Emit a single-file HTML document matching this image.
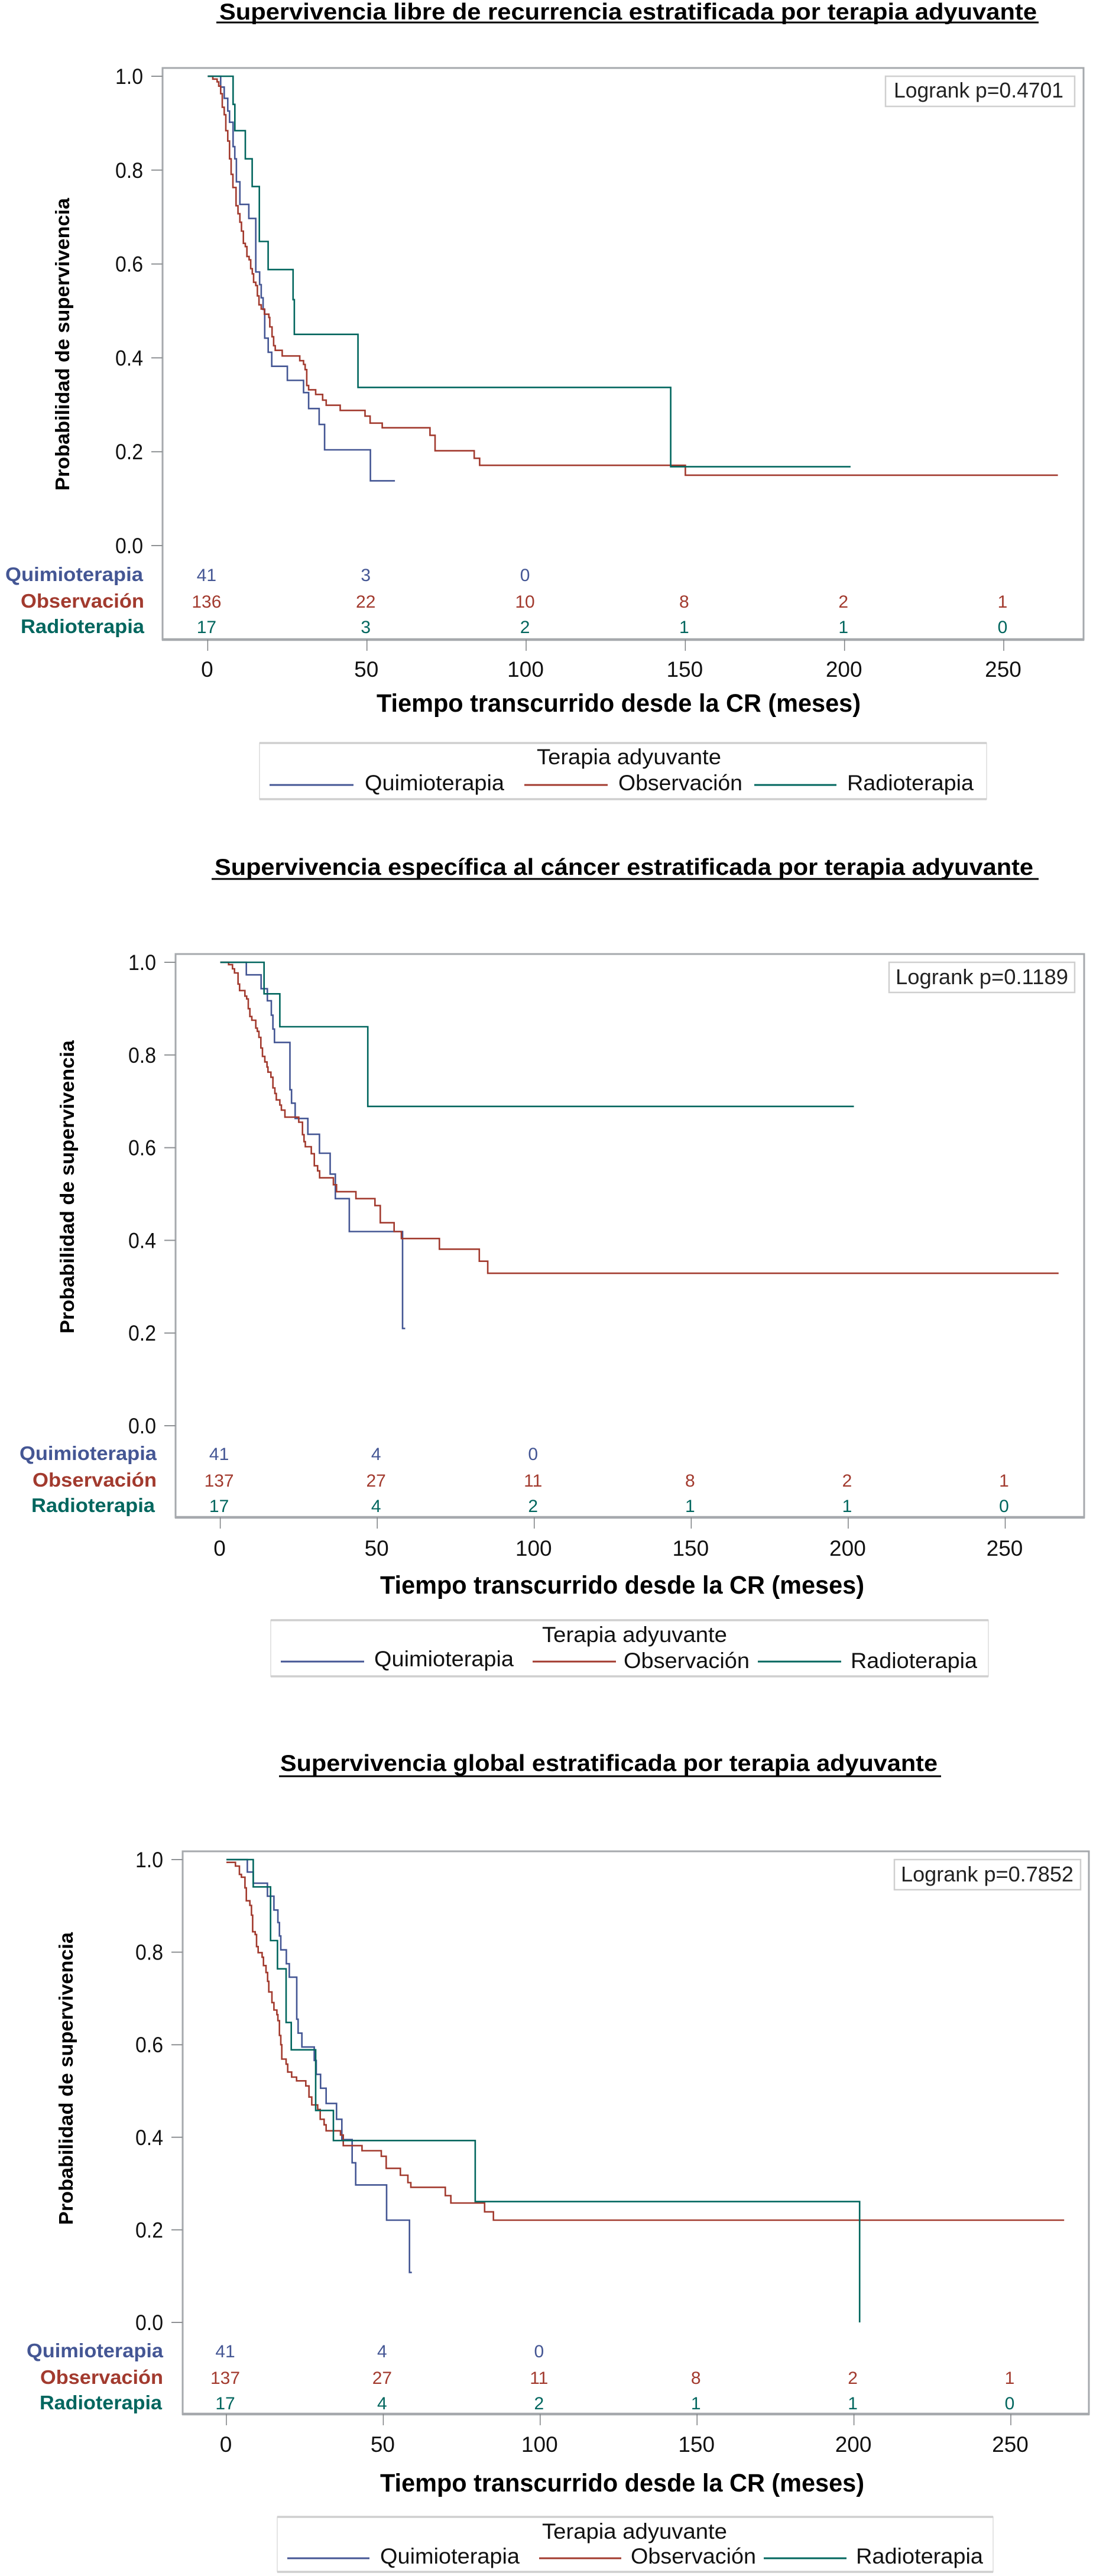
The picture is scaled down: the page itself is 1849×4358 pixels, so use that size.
<!DOCTYPE html>
<html lang="es">
<head>
<meta charset="utf-8">
<title>Curvas de supervivencia por terapia adyuvante</title>
<style>
  html, body { margin: 0; padding: 0; background: #fff; }
  svg { display: block; }
  text { font-family: "Liberation Sans", Arial, sans-serif; fill: #111; }
  .title { font-size: 39px; font-weight: bold; fill: #000; }
  .xtitle { font-size: 43px; font-weight: bold; fill: #000; }
  .ytitle { font-size: 33px; font-weight: bold; fill: #000; }
  .leg { font-size: 37px; fill: #111; }
  .lr { font-size: 36px; fill: #222; }
  .risk-label { font-size: 33px; font-weight: bold; }
</style>
</head>
<body>
<svg id="root" xmlns="http://www.w3.org/2000/svg" width="1849" height="4358" viewBox="0 0 1849 4358">
  <rect width="1849" height="4358" fill="#fff"/>

  <!-- Chart 1 -->
  <g id="chart1">
    <text class="title" x="371" y="33" textLength="1383" lengthAdjust="spacingAndGlyphs">Supervivencia libre de recurrencia estratificada por terapia adyuvante</text>
    <line x1="366" x2="1757" y1="38" y2="38" stroke="#000" stroke-width="3"/>
    <text class="ytitle" transform="translate(117,830) rotate(-90)" textLength="495" lengthAdjust="spacingAndGlyphs">Probabilidad de supervivencia</text>
    <text class="xtitle" x="637" y="1204" textLength="819" lengthAdjust="spacingAndGlyphs">Tiempo transcurrido desde la CR (meses)</text>
    <g>
      <rect x="439" y="1257" width="1230" height="95" fill="#fff" stroke="#dcdcdc" stroke-width="1.5"/>
      <line x1="439" x2="1669" y1="1257" y2="1257" stroke="#cfcfcf" stroke-width="3.5"/>
      <line x1="439" x2="1669" y1="1352" y2="1352" stroke="#cfcfcf" stroke-width="3.5"/>
      <text class="leg" x="908" y="1293" textLength="312" lengthAdjust="spacingAndGlyphs">Terapia adyuvante</text>
      <line x1="456" x2="598" y1="1328" y2="1328" stroke="#445694" stroke-width="3"/>
      <text class="leg" x="617" y="1337" textLength="236" lengthAdjust="spacingAndGlyphs">Quimioterapia</text>
      <line x1="887" x2="1028" y1="1328" y2="1328" stroke="#A23A2E" stroke-width="3"/>
      <text class="leg" x="1046" y="1337" textLength="210" lengthAdjust="spacingAndGlyphs">Observación</text>
      <line x1="1276" x2="1415" y1="1328" y2="1328" stroke="#01665E" stroke-width="3"/>
      <text class="leg" x="1433" y="1337" textLength="214" lengthAdjust="spacingAndGlyphs">Radioterapia</text>
    </g>
    <rect x="1498" y="129" width="320" height="51" fill="#fff" stroke="#cfcfcf" stroke-width="2.5"/>
    <text class="lr" x="1512" y="165" textLength="287" lengthAdjust="spacingAndGlyphs">Logrank p=0.4701</text>
  </g>

  <!-- Chart 2 -->
  <g id="chart2">
    <text class="title" x="363" y="1480" textLength="1385" lengthAdjust="spacingAndGlyphs">Supervivencia específica al cáncer estratificada por terapia adyuvante</text>
    <line x1="358" x2="1757" y1="1487" y2="1487" stroke="#000" stroke-width="3"/>
    <text class="ytitle" transform="translate(125,2256) rotate(-90)" textLength="496" lengthAdjust="spacingAndGlyphs">Probabilidad de supervivencia</text>
    <text class="xtitle" x="643" y="2696" textLength="819" lengthAdjust="spacingAndGlyphs">Tiempo transcurrido desde la CR (meses)</text>
    <g>
      <rect x="458" y="2741" width="1214" height="95" fill="#fff" stroke="#dcdcdc" stroke-width="1.5"/>
      <line x1="458" x2="1672" y1="2741" y2="2741" stroke="#cfcfcf" stroke-width="3.5"/>
      <line x1="458" x2="1672" y1="2836" y2="2836" stroke="#cfcfcf" stroke-width="3.5"/>
      <text class="leg" x="917" y="2778" textLength="313" lengthAdjust="spacingAndGlyphs">Terapia adyuvante</text>
      <line x1="475" x2="616" y1="2811" y2="2811" stroke="#445694" stroke-width="3"/>
      <text class="leg" x="633" y="2819" textLength="236" lengthAdjust="spacingAndGlyphs">Quimioterapia</text>
      <line x1="901" x2="1042" y1="2811" y2="2811" stroke="#A23A2E" stroke-width="3"/>
      <text class="leg" x="1055" y="2822" textLength="213" lengthAdjust="spacingAndGlyphs">Observación</text>
      <line x1="1282" x2="1423" y1="2811" y2="2811" stroke="#01665E" stroke-width="3"/>
      <text class="leg" x="1439" y="2822" textLength="214" lengthAdjust="spacingAndGlyphs">Radioterapia</text>
    </g>
    <rect x="1504" y="1628" width="314" height="51" fill="#fff" stroke="#cfcfcf" stroke-width="2.5"/>
    <text class="lr" x="1515" y="1665" textLength="292" lengthAdjust="spacingAndGlyphs">Logrank p=0.1189</text>
  </g>

  <!-- Chart 3 -->
  <g id="chart3">
    <text class="title" x="474" y="2996" textLength="1112" lengthAdjust="spacingAndGlyphs">Supervivencia global estratificada por terapia adyuvante</text>
    <line x1="472" x2="1592" y1="3005" y2="3005" stroke="#000" stroke-width="3"/>
    <text class="ytitle" transform="translate(123,3764) rotate(-90)" textLength="495" lengthAdjust="spacingAndGlyphs">Probabilidad de supervivencia</text>
    <text class="xtitle" x="643" y="4215" textLength="819" lengthAdjust="spacingAndGlyphs">Tiempo transcurrido desde la CR (meses)</text>
    <g>
      <rect x="469" y="4258" width="1211" height="93" fill="#fff" stroke="#dcdcdc" stroke-width="1.5"/>
      <line x1="469" x2="1680" y1="4258" y2="4258" stroke="#cfcfcf" stroke-width="3.5"/>
      <line x1="469" x2="1680" y1="4351" y2="4351" stroke="#cfcfcf" stroke-width="3.5"/>
      <text class="leg" x="917" y="4295" textLength="313" lengthAdjust="spacingAndGlyphs">Terapia adyuvante</text>
      <line x1="486" x2="625" y1="4328" y2="4328" stroke="#445694" stroke-width="3"/>
      <text class="leg" x="643" y="4337" textLength="236" lengthAdjust="spacingAndGlyphs">Quimioterapia</text>
      <line x1="912" x2="1051" y1="4328" y2="4328" stroke="#A23A2E" stroke-width="3"/>
      <text class="leg" x="1067" y="4337" textLength="212" lengthAdjust="spacingAndGlyphs">Observación</text>
      <line x1="1292" x2="1432" y1="4328" y2="4328" stroke="#01665E" stroke-width="3"/>
      <text class="leg" x="1448" y="4337" textLength="215" lengthAdjust="spacingAndGlyphs">Radioterapia</text>
    </g>
    <rect x="1513" y="3146" width="315" height="51" fill="#fff" stroke="#cfcfcf" stroke-width="2.5"/>
    <text class="lr" x="1524" y="3183" textLength="292" lengthAdjust="spacingAndGlyphs">Logrank p=0.7852</text>
  </g>
</svg>

<script>
// Shared axis values
const xTickValues = [0, 50, 100, 150, 200, 250];
const xTickLabels = ["0", "50", "100", "150", "200", "250"];
const yTickValues = [0, 0.2, 0.4, 0.6, 0.8, 1];
const yTickLabels = ["0.0", "0.2", "0.4", "0.6", "0.8", "1.0"];
const groupNames = ["Quimioterapia", "Observación", "Radioterapia"];

// Chart 1: recurrence-free survival (months, survival probability)
const c1QuimioTime = [0, 4.07, 5.18, 6.3, 6.85, 7.97, 8.5, 9.0, 10.1, 12.9, 15.1, 16.3, 16.8, 17.4, 17.9, 19.0, 20.1, 25.0, 30.1, 31.7, 35.0, 36.7, 51.1, 58.8];
const c1QuimioSurv = [1, .977, .953, .926, .902, .850, .824, .775, .727, .697, .583, .556, .528, .503, .442, .412, .382, .352, .326, .292, .258, .204, .138, .138];
const c1ObsTime = [0, 1.6, 2.95, 3.45, 4.07, 4.56, 5.18, 5.68, 6.3, 6.85, 7.35, 7.9, 8.9, 9.5, 10.1, 10.6, 11.2, 11.8, 12.3, 13.0, 13.5, 14.0, 14.4, 15.1, 15.6, 16.1, 16.8, 17.8, 19.2, 19.5, 20.2, 20.7, 21.2, 23.4, 28.9, 30.1, 30.6, 31.1, 31.7, 33.9, 36.1, 37.2, 41.6, 49.4, 51.0, 54.8, 69.8, 71.4, 83.7, 85.4, 150, 267];
const c1ObsSurv = [1, .994, .988, .979, .963, .934, .918, .884, .862, .824, .791, .763, .724, .707, .689, .670, .644, .637, .616, .609, .590, .579, .561, .554, .532, .513, .504, .493, .486, .466, .445, .426, .416, .404, .394, .386, .375, .341, .332, .322, .310, .299, .288, .276, .261, .251, .235, .202, .186, .171, .150, .150];
const c1RadioTime = [0, 7.97, 8.52, 11.8, 13.97, 16.2, 18.98, 26.8, 27.2, 47.2, 145.4, 201.9];
const c1RadioSurv = [1, .940, .884, .824, .765, .648, .588, .524, .450, .337, .168, .168];
const c1RiskQuimio = ["41", "3", "0"];
const c1RiskObs = ["136", "22", "10", "8", "2", "1"];
const c1RiskRadio = ["17", "3", "2", "1", "1", "0"];

// Chart 2: cancer-specific survival
const c2QuimioTime = [0, 8.3, 13.0, 15.0, 16.27, 16.77, 17.27, 22.2, 22.7, 23.86, 27.9, 31.6, 35.0, 36.66, 41.1, 58.06, 58.9];
const c2QuimioSurv = [1, .973, .943, .917, .886, .856, .827, .725, .696, .663, .629, .588, .543, .490, .419, .210, .210];
const c2ObsTime = [0, 2.65, 3.9, 4.53, 5.66, 6.16, 7.86, 8.42, 8.93, 9.43, 10.05, 11.31, 11.81, 12.31, 12.94, 13.44, 14.2, 14.89, 15.2, 16.14, 16.77, 17.4, 17.84, 18.97, 19.47, 20.6, 25.0, 26.18, 26.68, 27.1, 29.0, 29.95, 31.0, 31.64, 36.03, 37.04, 43.2, 49.27, 50.97, 55.36, 57.68, 69.8, 82.5, 85.2, 267];
const c2ObsSurv = [1, .995, .986, .977, .953, .939, .927, .921, .900, .883, .875, .858, .851, .838, .815, .797, .785, .774, .763, .752, .729, .717, .703, .692, .681, .666, .655, .628, .613, .602, .587, .561, .550, .535, .520, .505, .490, .475, .438, .419, .404, .381, .355, .329, .329];
const c2RadioTime = [0, 13.95, 18.97, 47.0, 201.8];
const c2RadioSurv = [1, .932, .861, .689, .689];
const c2RiskQuimio = ["41", "4", "0"];
const c2RiskObs = ["137", "27", "11", "8", "2", "1"];
const c2RiskRadio = ["17", "4", "2", "1", "1", "0"];

// Chart 3: overall survival
const c3QuimioTime = [0, 6.66, 8.55, 13.07, 15.14, 16.4, 16.9, 17.34, 19.1, 20.04, 22.42, 22.86, 24.06, 28.0, 28.64, 30.02, 31.78, 35.1, 36.8, 40.07, 41.2, 51.06, 58.34, 59.1];
const c3QuimioSurv = [1, .973, .949, .921, .891, .864, .835, .805, .775, .746, .655, .625, .595, .566, .536, .506, .473, .439, .395, .345, .297, .221, .108, .108];
const c3ObsTime = [0, 0.38, 2.89, 4.15, 4.78, 5.91, 6.35, 7.48, 7.98, 8.36, 9.17, 9.61, 10.12, 11.37, 11.81, 12.63, 13.13, 13.51, 14.51, 15.14, 16.08, 16.4, 16.9, 17.34, 17.65, 19.03, 19.54, 20.79, 22.36, 25.31, 26.32, 27.2, 29.08, 29.9, 31.15, 31.78, 36.36, 37.24, 43.21, 49.36, 50.93, 55.45, 57.84, 58.78, 69.77, 71.53, 82.3, 85.1, 267];
const c3ObsSurv = [.994, .994, .986, .968, .962, .939, .911, .901, .880, .844, .838, .812, .799, .789, .771, .756, .737, .714, .691, .675, .665, .652, .620, .600, .569, .558, .541, .530, .522, .511, .487, .470, .460, .439, .427, .414, .405, .382, .371, .359, .333, .318, .302, .292, .274, .258, .239, .221, .221];
const c3RadioTime = [0, 8.55, 14.07, 16.27, 19.03, 20.66, 28.45, 34.1, 79.3, 201.8];
const c3RadioSurv = [1, .941, .825, .764, .648, .589, .458, .393, .261, 0];
const c3RiskQuimio = ["41", "4", "0"];
const c3RiskObs = ["137", "27", "11", "8", "2", "1"];
const c3RiskRadio = ["17", "4", "2", "1", "1", "0"];

const SVG_NS = "http://www.w3.org/2000/svg";
const seriesColor = ["#445694", "#A23A2E", "#01665E"];
const seriesSlug = ["quimioterapia", "observacion", "radioterapia"];

function mk(parent, tag, attrs, content) {
  const el = document.createElementNS(SVG_NS, tag);
  for (const k in attrs) el.setAttribute(k, attrs[k]);
  if (content !== undefined) el.textContent = content;
  parent.appendChild(el);
  return el;
}

function drawChart(id, L, series, risk) {
  const root = document.getElementById(id);
  const plot = document.createElementNS(SVG_NS, "g");
  
  
  root.insertBefore(plot, root.firstChild);

  const xScale = t => L.x0 + t * (L.x250 - L.x0) / 250;
  const yScale = s => L.y0 + s * (L.y1 - L.y0);

  const frame = mk(plot, "rect", { x: L.left, y: L.top, width: L.right - L.left, height: L.bottom - L.top, fill: "none", stroke: "#a6a9ad", "stroke-width": 3 });
  
  
  const base = mk(plot, "line", { x1: L.left - 1, x2: L.right + 1, y1: L.bottom, y2: L.bottom, stroke: "#a6a9ad", "stroke-width": 4.5 });
  
  

  yTickValues.forEach((v, i) => {
    const y = yScale(v);
    const tick = mk(plot, "line", { x1: L.left - 19, x2: L.left, y1: y, y2: y, stroke: "#8e9194", "stroke-width": 2 });
    
    
    const label = mk(plot, "text", { x: L.left - 33, y: y + 13, "text-anchor": "end", "font-size": 37, textLength: 47, lengthAdjust: "spacingAndGlyphs" }, yTickLabels[i]);
    
    
  });

  xTickValues.forEach((v, i) => {
    const x = xScale(v);
    const tick = mk(plot, "line", { x1: x, x2: x, y1: L.bottom, y2: L.bottom + 19, stroke: "#7c7f82", "stroke-width": 1.5 });
    
    
    const label = mk(plot, "text", { x: x - 1, y: L.xTickBase, "text-anchor": "middle", "font-size": 37 }, xTickLabels[i]);
    
    
  });

  series.forEach((sr, k) => {
    const pts = [[xScale(sr.time[0]), yScale(sr.surv[0])]];
    for (let i = 1; i < sr.time.length; i++) {
      pts.push([xScale(sr.time[i]), yScale(sr.surv[i - 1])]);
      pts.push([xScale(sr.time[i]), yScale(sr.surv[i])]);
    }
    const line = mk(plot, "polyline", {
      points: pts.map(p => p[0].toFixed(1) + "," + p[1].toFixed(1)).join(" "),
      fill: "none", stroke: seriesColor[k], "stroke-width": 2.6, "stroke-linejoin": "miter"
    });
    
    
  });

  risk.forEach((row, k) => {
    const base = L.riskBase[k];
    const name = mk(plot, "text", { x: L.riskLabelX[k][0], y: base, class: "risk-label", fill: seriesColor[k], style: "fill:" + seriesColor[k], textLength: L.riskLabelX[k][1] - L.riskLabelX[k][0], lengthAdjust: "spacingAndGlyphs" }, groupNames[k]);
    
    
    row.forEach((val, i) => {
      const t = mk(plot, "text", { x: xScale(xTickValues[i]) - 2, y: base, "text-anchor": "middle", "font-size": 30, style: "fill:" + seriesColor[k] }, val);
      
      
    });
  });
}

drawChart("chart1",
  { left: 275, right: 1833, top: 115, bottom: 1082, x0: 351.4, x250: 1698, y0: 923, y1: 129, xTickBase: 1145,
    riskBase: [983, 1028, 1071], riskLabelX: [[9, 242], [35, 244], [35, 244]] },
  [ { time: c1QuimioTime, surv: c1QuimioSurv }, { time: c1ObsTime, surv: c1ObsSurv }, { time: c1RadioTime, surv: c1RadioSurv } ],
  [c1RiskQuimio, c1RiskObs, c1RiskRadio]);

drawChart("chart2",
  { left: 297, right: 1834, top: 1614, bottom: 2567, x0: 372.6, x250: 1700.5, y0: 2412, y1: 1628, xTickBase: 2632,
    riskBase: [2470, 2515, 2558], riskLabelX: [[33, 265], [55, 265], [53, 262]] },
  [ { time: c2QuimioTime, surv: c2QuimioSurv }, { time: c2ObsTime, surv: c2ObsSurv }, { time: c2RadioTime, surv: c2RadioSurv } ],
  [c2RiskQuimio, c2RiskObs, c2RiskRadio]);

drawChart("chart3",
  { left: 309, right: 1842, top: 3132, bottom: 4084, x0: 383, x250: 1710, y0: 3929, y1: 3146, xTickBase: 4148,
    riskBase: [3988, 4033, 4076], riskLabelX: [[45, 276], [68, 276], [67, 274]] },
  [ { time: c3QuimioTime, surv: c3QuimioSurv }, { time: c3ObsTime, surv: c3ObsSurv }, { time: c3RadioTime, surv: c3RadioSurv } ],
  [c3RiskQuimio, c3RiskObs, c3RiskRadio]);
</script>
</body>
</html>
